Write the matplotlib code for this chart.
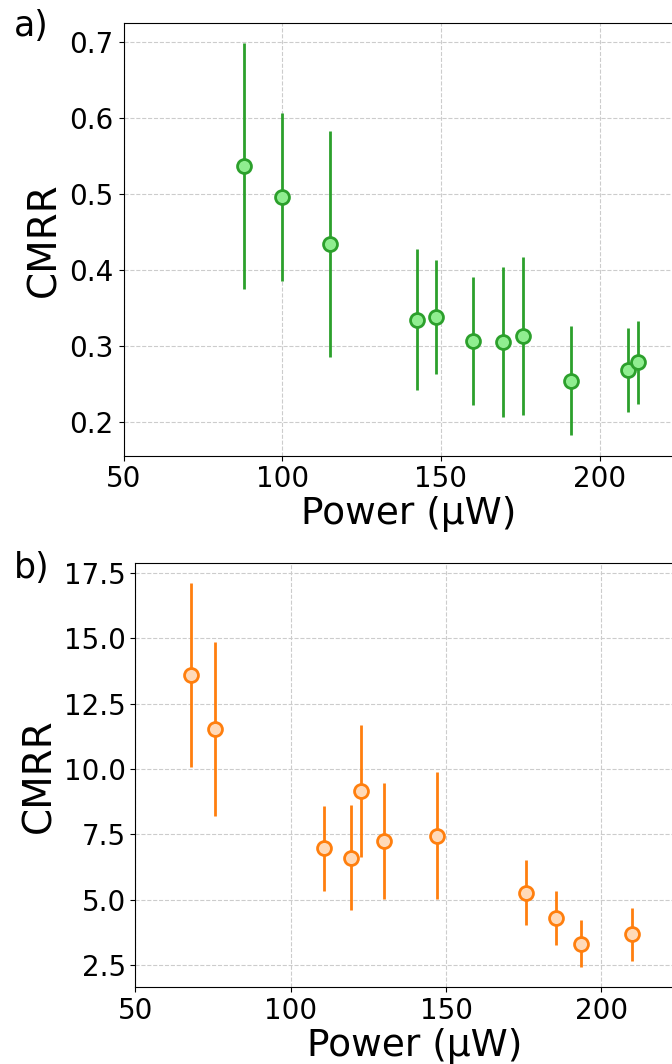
import numpy as np
import matplotlib
matplotlib.use("Agg")
import matplotlib.pyplot as plt

# panel a) data
power_a = [88.1, 100.0, 115.1, 142.4, 148.5, 160.0, 169.7, 175.8, 191.1, 209.1, 212.2]
cmrr_a = [0.536, 0.496, 0.434, 0.334, 0.338, 0.306, 0.305, 0.313, 0.254, 0.268, 0.278]
err_a = [0.162, 0.111, 0.149, 0.093, 0.075, 0.084, 0.099, 0.104, 0.072, 0.055, 0.055]

# panel b) data
power_b = [67.8, 75.7, 110.6, 119.3, 122.7, 130.0, 147.0, 175.7, 185.4, 193.4, 209.9]
cmrr_b = [13.61, 11.54, 6.96, 6.61, 9.16, 7.25, 7.44, 5.26, 4.30, 3.32, 3.67]
err_b = [3.52, 3.33, 1.63, 2.01, 2.54, 2.22, 2.43, 1.24, 1.05, 0.89, 1.00]

xticks = [50, 100, 150, 200]


def style_axis(ax):
    ax.grid(True, linestyle="--", color="#cccccc", linewidth=0.8)
    ax.set_axisbelow(True)
    ax.set_xlim(50, 230)
    ax.set_xticks(xticks)
    ax.tick_params(labelsize=20)
    ax.set_xlabel("Power (\u03bcW)", fontsize=27, labelpad=2)
    ax.set_ylabel("CMRR", fontsize=28, labelpad=4)


fig = plt.figure(figsize=(6.72, 10.64), dpi=100)

ax1 = fig.add_axes([0.1838, 0.5717, 0.85, 0.4067])
ax1.errorbar(power_a, cmrr_a, yerr=err_a, fmt="o", color="#2ca02c",
             ecolor="#2ca02c", elinewidth=2, markersize=10,
             markerfacecolor="#90ee90", markeredgecolor="#2ca02c",
             markeredgewidth=2, capsize=0)
ax1.set_ylim(0.155, 0.725)
ax1.set_yticks([0.2, 0.3, 0.4, 0.5, 0.6, 0.7])
style_axis(ax1)

ax2 = fig.add_axes([0.2015, 0.0721, 0.832, 0.3985])
ax2.errorbar(power_b, cmrr_b, yerr=err_b, fmt="o", color="#ff7f0e",
             ecolor="#ff7f0e", elinewidth=2, markersize=10,
             markerfacecolor="#ffdab9", markeredgecolor="#ff7f0e",
             markeredgewidth=2, capsize=0)
ax2.set_ylim(1.645, 17.88)
ax2.set_yticks([2.5, 5.0, 7.5, 10.0, 12.5, 15.0, 17.5])
style_axis(ax2)

fig.text(0.02, 0.9755, "a)", fontsize=25, ha="left", va="center")
fig.text(0.02, 0.4665, "b)", fontsize=25, ha="left", va="center")

fig.savefig("out.png", dpi=100)
